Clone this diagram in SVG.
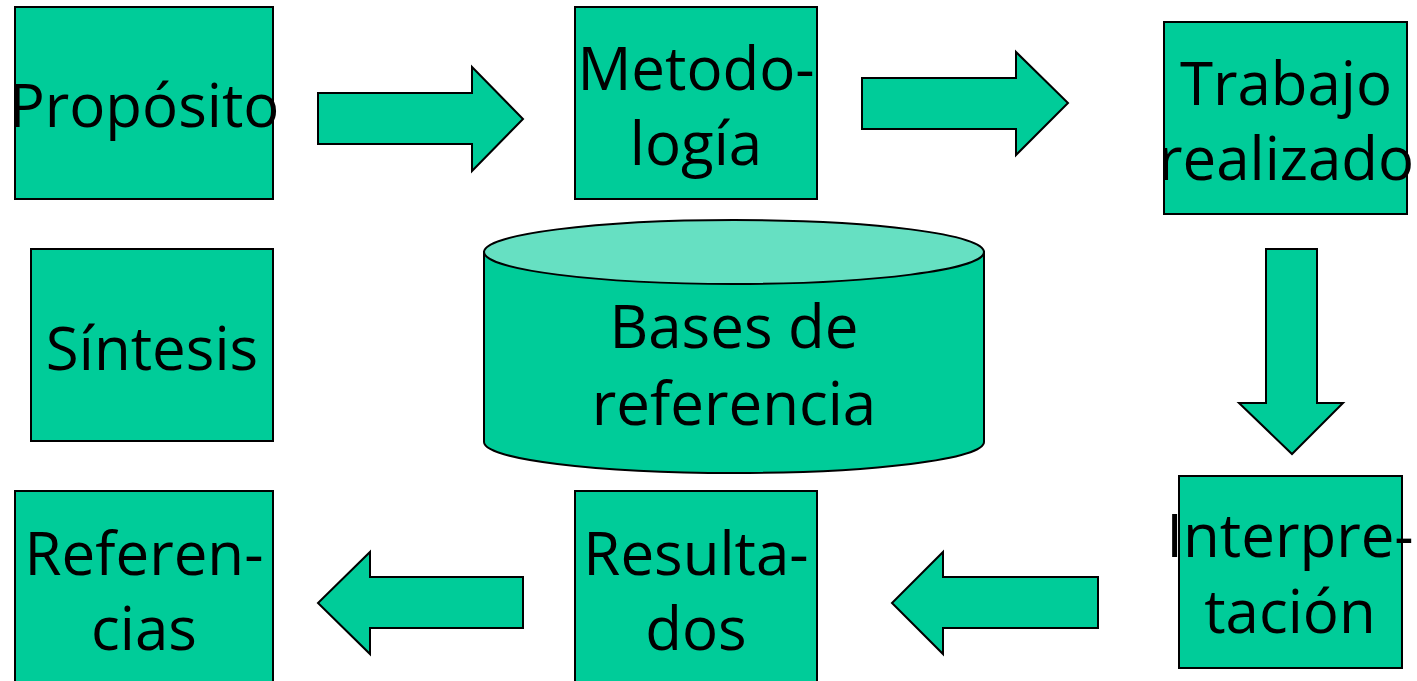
<svg xmlns="http://www.w3.org/2000/svg" width="1417" height="681" viewBox="0 0 1417 681">
<style>
.box{fill:#00CC99;stroke:#000;stroke-width:2}
.arr{fill:#00CC99;stroke:#000;stroke-width:2;stroke-linejoin:miter}
.top{fill:#66E0C2;stroke:#000;stroke-width:2}
text{font-family:"Open Sans","Noto Sans","DejaVu Sans",sans-serif;font-size:60px;fill:#000;text-anchor:middle}
</style>
<rect width="1417" height="681" fill="#fff"/>
<g id="connectors">
<polygon class="arr" points="318,93 472,93 472,67 523,119 472,171 472,144 318,144"/>
<polygon class="arr" points="862,78 1016,78 1016,52 1068,103 1016,155 1016,129 862,129"/>
<polygon class="arr" points="1266,249 1317,249 1317,403 1343,403 1292,454 1239,403 1266,403"/>
<polygon class="arr" points="1098,577 943,577 943,552 892,603 943,654 943,628 1098,628"/>
<polygon class="arr" points="523,577 370,577 370,552 318,603 370,654 370,628 523,628"/>
</g>
<g id="proposito">
<rect class="box" x="15" y="7" width="258" height="192"/>
<text x="144" y="127">Propósito</text>
</g>
<g id="metodologia">
<rect class="box" x="575" y="7" width="242" height="192"/>
<text x="696" y="90">Metodo-</text>
<text x="696" y="165">logía</text>
</g>
<g id="trabajo">
<rect class="box" x="1164" y="22" width="243" height="192"/>
<text x="1286" y="105">Trabajo</text>
<text x="1286" y="180">realizado</text>
</g>
<g id="sintesis">
<rect class="box" x="31" y="249" width="242" height="192"/>
<text x="152" y="370">Síntesis</text>
</g>
<g id="bases">
<path class="box" d="M484,252 L484,442 A250,31 0 0 0 984,442 L984,252 Z"/>
<ellipse class="top" cx="734" cy="252" rx="250" ry="32"/>
<text x="734" y="348">Bases de</text>
<text x="734" y="425">referencia</text>
</g>
<g id="interpretacion">
<rect class="box" x="1179" y="476" width="223" height="192"/>
<text x="1290" y="557">Interpre-</text>
<text x="1290" y="633">tación</text>
</g>
<g id="resultados">
<rect class="box" x="575" y="491" width="242" height="200"/>
<text x="696" y="575">Resulta-</text>
<text x="696" y="650">dos</text>
</g>
<g id="referencias">
<rect class="box" x="15" y="491" width="258" height="200"/>
<text x="144" y="575">Referen-</text>
<text x="144" y="650">cias</text>
</g>
</svg>
